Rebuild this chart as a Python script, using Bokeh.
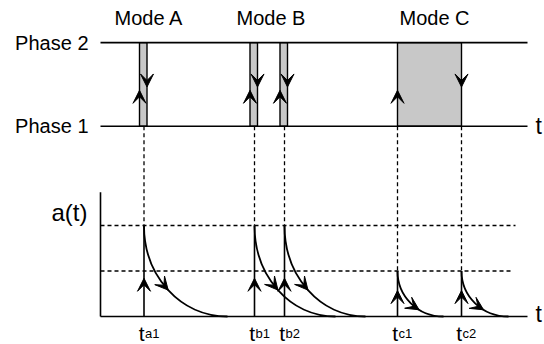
from bokeh.plotting import figure
from bokeh.models import Range1d, Arrow, VeeHead, ColumnDataSource
from bokeh.core.properties import value
from bokeh.embed import file_html
from bokeh.resources import INLINE

# ---------------- data (time units / level units) ----------------
modes = ["Mode A", "Mode B", "Mode C"]
mode_x = [4.85, 17.05, 33.4]
mode_level = 6.55

phase_labels = ["Phase 1", "Phase 2"]
phase_levels = [4.18, 6.02]
t_end = 42.7                      # end of the time axes

event_sub = ["a1", "b1", "b2", "c1", "c2"]
event_t = [4.35, 15.4, 18.4, 29.7, 36.1]
event_level = [2.0, 2.0, 2.0, 1.0, 1.0]      # a(t) jump height
decay_end = [12.7, 23.5, 26.5, 34.3, 40.8]   # where a(t) returns to 0
decay_arrow_at = [0.5, 0.5, 0.5, 0.65, 0.65]
rise_arrow_frac = [0.42, 0.42, 0.42, 0.57, 0.57]

pulse_start = [3.9, 14.95, 17.95, 29.7]
pulse_end = [4.65, 15.7, 18.7, 36.1]
pulse_up_frac = 0.43
pulse_down_frac = 0.47

ref_levels = [1.0, 2.0]
ref_level_end = [41.3, 41.5]
a_axis_top = 2.73
a_label_level = 2.29

# ---------------- figure ----------------
FONT = value("Liberation Sans")
p = figure(width=544, height=344,
           x_range=Range1d(-10.0, 44.4), y_range=Range1d(-0.615, 6.945),
           output_backend="svg", toolbar_location=None,
           x_axis_type=None, y_axis_type=None, min_border=0,
           outline_line_color=None, background_fill_color="white")
p.xgrid.visible = False
p.ygrid.visible = False

LW = 1.6
BLACK = "black"

# pulses (phase 2 residence)
p.quad(left=pulse_start, right=pulse_end,
       bottom=[phase_levels[0]] * len(pulse_start), top=[phase_levels[1]] * len(pulse_start),
       fill_color="#c8c8c8", line_color=BLACK, line_width=1.4)

# phase lines
p.segment(x0=[0, 0], x1=[t_end, t_end], y0=phase_levels, y1=phase_levels,
          line_color=BLACK, line_width=LW)

# lower axes
p.segment(x0=[0, 0], x1=[t_end, 0], y0=[0, 0], y1=[0, a_axis_top],
          line_color=BLACK, line_width=LW)

# dashed reference levels
p.segment(x0=[0, 0], x1=ref_level_end, y0=ref_levels, y1=ref_levels,
          line_color=BLACK, line_width=1.3, line_dash="4 3")

# dashed verticals from phase 1 to jump height
p.segment(x0=event_t, x1=event_t, y0=[phase_levels[0]] * len(event_t), y1=event_level,
          line_color=BLACK, line_width=1.3, line_dash="4 3")

# solid jumps
p.segment(x0=event_t, x1=event_t, y0=[0] * len(event_t), y1=event_level,
          line_color=BLACK, line_width=LW)

# decay curves (cubic bezier, vertical start tangent, horizontal end tangent)
K = 0.44
cx0 = list(event_t)
cy0 = [K * L for L in event_level]
cx1 = [t + K * (e - t) for t, e in zip(event_t, decay_end)]
cy1 = [0] * len(event_t)
p.bezier(x0=event_t, y0=event_level, x1=decay_end, y1=[0] * len(event_t),
         cx0=cx0, cy0=cy0, cx1=cx1, cy1=cy1, line_color=BLACK, line_width=1.8)


def bez(a, b, c, d, s):
    return (1 - s) ** 3 * a + 3 * (1 - s) ** 2 * s * b + 3 * (1 - s) * s ** 2 * c + s ** 3 * d


xs, ys, xe, ye = [], [], [], []
# arrows on decay curves
for i in range(len(event_t)):
    s = decay_arrow_at[i]
    for (lst_x, lst_y, ss) in ((xs, ys, s - 0.03), (xe, ye, s)):
        lst_x.append(bez(event_t[i], cx0[i], cx1[i], decay_end[i], ss))
        lst_y.append(bez(event_level[i], cy0[i], cy1[i], 0, ss))
# arrows on jumps
for i in range(len(event_t)):
    tip = rise_arrow_frac[i] * event_level[i]
    xs.append(event_t[i]); ys.append(tip - 0.05)
    xe.append(event_t[i]); ye.append(tip)
# arrows on pulse edges
dphase = phase_levels[1] - phase_levels[0]
for a, b in zip(pulse_start, pulse_end):
    up = phase_levels[0] + pulse_up_frac * dphase
    xs.append(a); ys.append(up - 0.05); xe.append(a); ye.append(up)
    dn = phase_levels[0] + pulse_down_frac * dphase
    xs.append(b); ys.append(dn + 0.05); xe.append(b); ye.append(dn)

arrow_src = ColumnDataSource(dict(xs=xs, ys=ys, xe=xe, ye=ye))
p.add_layout(Arrow(source=arrow_src, x_start="xs", y_start="ys", x_end="xe", y_end="ye",
                   line_alpha=0,
                   end=VeeHead(size=13, fill_color=BLACK, line_color=BLACK, line_width=1)))

# ---------------- texts ----------------
p.text(x=mode_x, y=[mode_level] * 3, text=modes, text_font=FONT, text_font_size="20px",
       text_align="center", text_baseline="middle", text_color=BLACK)
p.text(x=[-1.2, -1.2], y=phase_levels, text=phase_labels, text_font=FONT,
       text_font_size="20px", text_align="right", text_baseline="middle", text_color=BLACK)
p.text(x=[t_end + 0.8, t_end + 0.8], y=[phase_levels[0], 0.05], text=["t", "t"], text_font=FONT,
       text_font_size="23px", text_align="left", text_baseline="middle", text_color=BLACK)
p.text(x=[-1.3], y=[a_label_level], text=["a(t)"], text_font=FONT, text_font_size="24px",
       text_align="right", text_baseline="middle", text_color=BLACK)

tick_baseline = -0.37
p.text(x=[t + 0.05 for t in event_t], y=[tick_baseline] * len(event_t), text=["t"] * len(event_t),
       text_font=FONT, text_font_size="21px", text_align="right", text_baseline="alphabetic",
       text_color=BLACK)
p.text(x=[t + 0.1 for t in event_t], y=[tick_baseline] * len(event_t), text=event_sub,
       text_font=FONT, text_font_size="13px", text_align="left", text_baseline="alphabetic",
       text_color=BLACK)

open("out.html", "w").write(file_html(p, INLINE))
